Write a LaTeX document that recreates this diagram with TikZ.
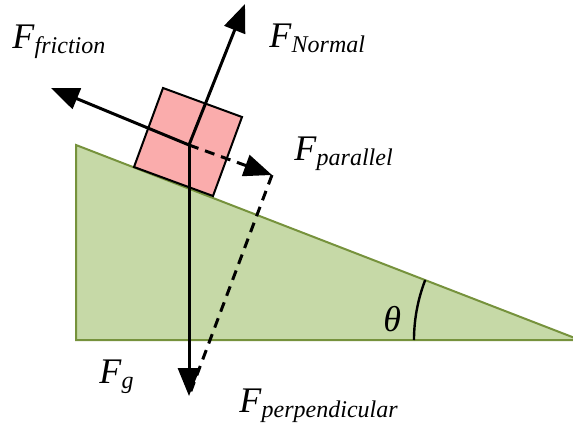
\documentclass[tikz,border=0pt]{standalone}
\usepackage{fontspec}
\setmainfont{Liberation Serif}
\usetikzlibrary{arrows.meta}

\definecolor{rampgreen}{RGB}{198,217,167}
\definecolor{rampedge}{RGB}{118,146,60}
\definecolor{blockpink}{RGB}{250,172,172}

\newcommand{\force}[1]{\textit{F}\raisebox{-2.8pt}{\fontsize{12}{14}\selectfont\textit{#1}}}

\tikzset{
	vec/.style={line width=1.5pt, -{Triangle[length=14pt,width=11pt]}},
	comp/.style={vec, dash pattern=on 5pt off 3.5pt},
	flabel/.style={anchor=base west, inner sep=0pt, font=\fontsize{18}{21}\selectfont}
}

\begin{document}
\begin{tikzpicture}[x=0.5pt,y=-0.5pt]
				\useasboundingbox (0,0) rectangle (573,423);
				% the ramp
				\coordinate (top) at (76,145);
				\coordinate (corner) at (76,340);
				\coordinate (tip) at (580,340);
				\draw[rampedge, fill=rampgreen, line width=1pt] (top) -- (corner) -- (tip) -- cycle;
				\draw[line width=1.2pt] (414,340) arc[start angle=180, end angle=201.2, radius=166];
				\node[flabel] (theta) at (383,331) {\textit{θ}};
				% the block
				\draw[fill=blockpink, line width=1pt] (134,167) -- (163,88) -- (242,117) -- (213,196) -- cycle;
				% forces
				\coordinate (O) at (189,145);
				\coordinate (N) at (245,4);
				\coordinate (Fr) at (51,88);
				\coordinate (G) at (189,396);
				\coordinate (P) at (272,175);
				\draw[comp] (O) -- (P);
				\draw[line width=1.5pt, dash pattern=on 5pt off 3.5pt] (P) -- (G);
				\draw[vec] (O) -- (N);
				\draw[vec] (O) -- (Fr);
				\draw[vec] (O) -- (G);
				% labels
				\node[flabel] (lfric) at (12,48) {\force{friction}};
				\node[flabel] (lnorm) at (269,47) {\force{Normal}};
				\node[flabel] (lpar) at (294,160) {\force{parallel}};
				\node[flabel] (lg) at (99,383) {\force{g}};
				\node[flabel] (lperp) at (239,412) {\force{perpendicular}};
			\end{tikzpicture}
\end{document}
